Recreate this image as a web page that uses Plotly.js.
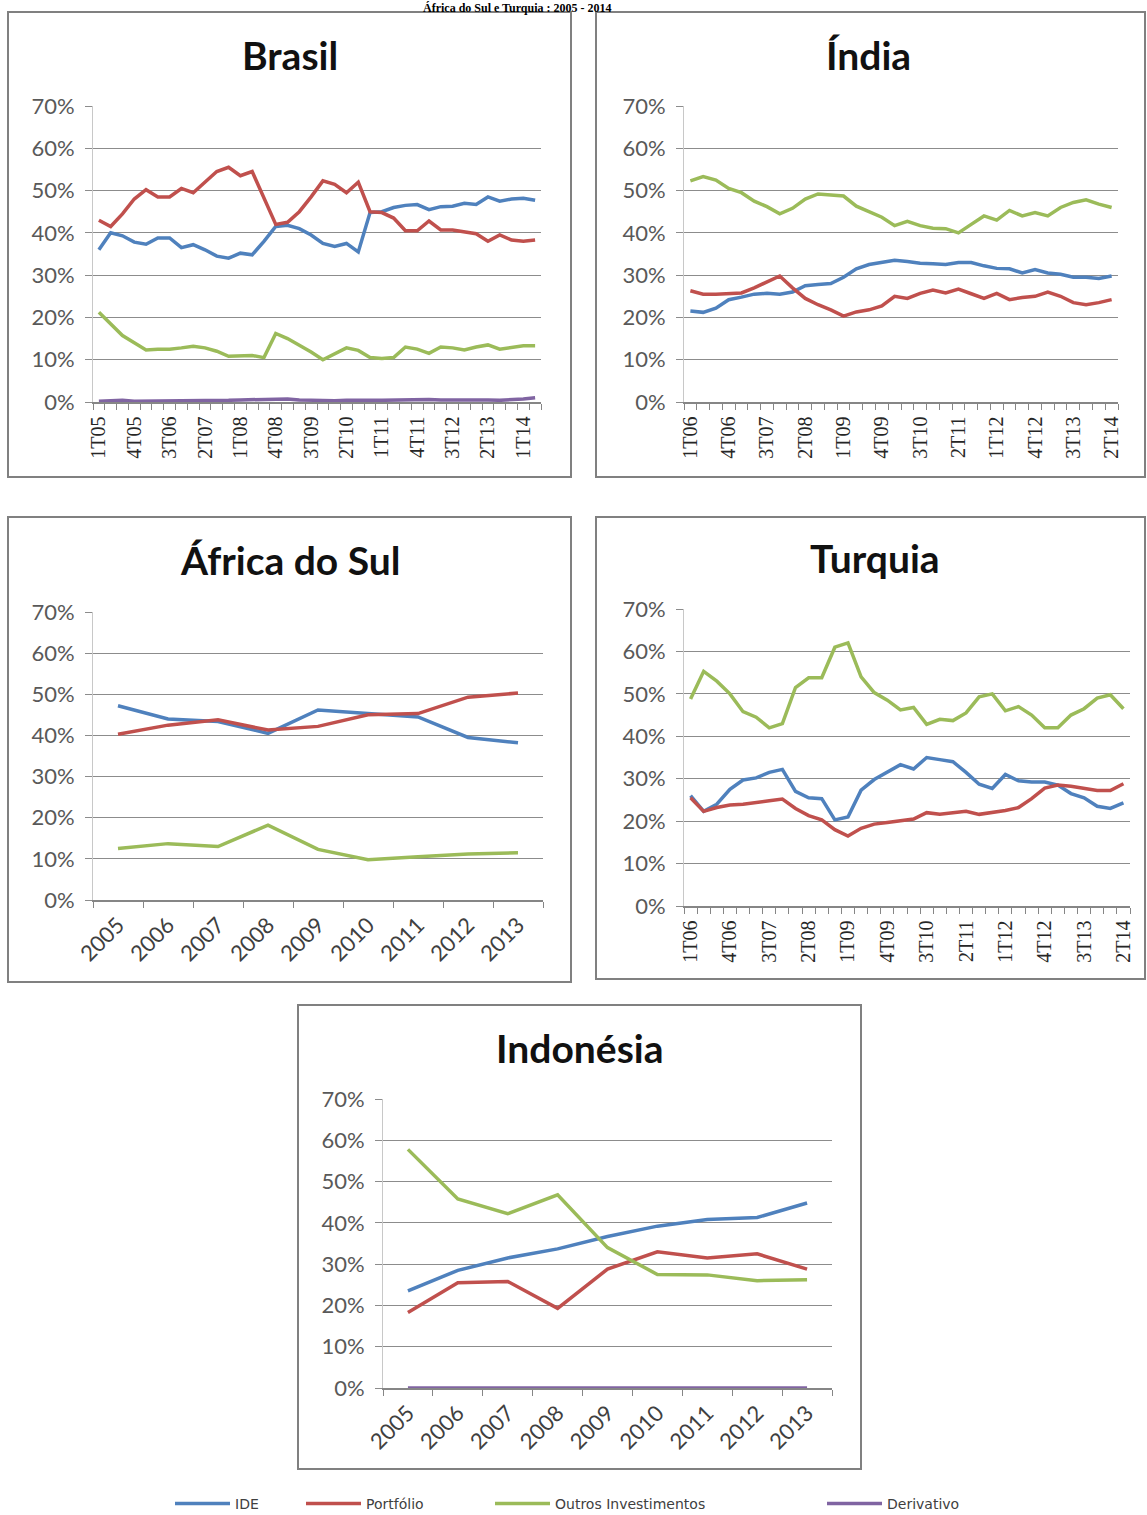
<!DOCTYPE html>
<html><head><meta charset="utf-8">
<script src="https://cdn.plot.ly/plotly-3.0.1.min.js"></script>
<style>
html,body{margin:0;padding:0;background:#fff;}
#chart{width:1147px;height:1515px;}
</style></head>
<body><div id="chart"></div>
<script>
// ---------- categories ----------
const quartersBR = ['1T05','2T05','3T05','4T05','1T06','2T06','3T06','4T06','1T07','2T07','3T07','4T07',
  '1T08','2T08','3T08','4T08','1T09','2T09','3T09','4T09','1T10','2T10','3T10','4T10',
  '1T11','2T11','3T11','4T11','1T12','2T12','3T12','4T12','1T13','2T13','3T13','4T13','1T14','2T14'];
const quartersIN = ['1T06','2T06','3T06','4T06','1T07','2T07','3T07','4T07',
  '1T08','2T08','3T08','4T08','1T09','2T09','3T09','4T09','1T10','2T10','3T10','4T10',
  '1T11','2T11','3T11','4T11','1T12','2T12','3T12','4T12','1T13','2T13','3T13','4T13','1T14','2T14'];
const years = ['2005','2006','2007','2008','2009','2010','2011','2012','2013'];
const seriesNames = ['IDE','Portfólio','Outros Investimentos','Derivativo'];

// ---------- Brasil (%) ----------
const brIDE = [36,40,39.3,37.8,37.3,38.8,38.8,36.5,37.2,36,34.5,34,35.2,34.8,38,41.5,41.8,41,39.5,37.5,36.8,37.5,35.5,44.8,45,46,46.5,46.7,45.5,46.2,46.3,47,46.7,48.5,47.5,48,48.2,47.7];
const brPort = [43,41.5,44.5,48,50.2,48.5,48.5,50.5,49.5,52,54.5,55.5,53.5,54.5,48,42,42.5,45,48.5,52.3,51.5,49.5,52,45,44.8,43.5,40.5,40.5,42.8,40.7,40.7,40.3,39.8,38,39.5,38.3,38,38.3];
const brOutros = [21.2,18.5,15.7,14,12.3,12.5,12.5,12.8,13.2,12.8,12,10.8,10.8,11,10.5,16.2,15,13.5,11.8,10,11.5,12.8,12.2,10.5,10.3,10.5,13,12.5,11.5,13,12.8,12.3,13,13.5,12.5,13,13.3,13.3];
const brDeriv = [0.2,0.3,0.4,0.2,0.2,0.2,0.3,0.2,0.3,0.4,0.3,0.4,0.5,0.6,0.7,0.8,0.7,0.5,0.4,0.3,0.3,0.4,0.3,0.4,0.4,0.5,0.6,0.7,0.6,0.5,0.5,0.6,0.7,0.5,0.4,0.5,0.7,1.0];

// ---------- Índia (%) ----------
const inIDE = [21.5,21.2,22.2,24.2,24.8,25.5,25.7,25.5,26,27.5,27.8,28,29.5,31.5,32.5,33.1,33.5,33.2,32.8,32.7,32.5,33,33,32.2,31.6,31.5,30.5,31.3,30.5,30.2,29.5,29.5,29.2,29.8];
const inPort = [26.3,25.5,25.5,25.6,25.8,27,28.5,29.8,27,24.5,23,21.8,20.3,21.3,21.8,22.7,25,24.5,25.7,26.5,25.8,26.7,25.6,24.5,25.7,24.2,24.7,25,26,25,23.5,23,23.5,24.2];
const inOutros = [52.3,53.3,52.5,50.5,49.5,47.5,46.2,44.5,45.8,48,49.2,49,48.7,46.3,45,43.7,41.7,42.7,41.7,41.1,41,40,42,44,43,45.3,44,44.8,44,46,47.2,47.8,46.8,46];

// ---------- África do Sul (%) ----------
const zaIDE = [47.2,44,43.4,40.5,46.2,45.3,44.5,39.5,38.2];
const zaPort = [40.3,42.5,43.8,41.3,42.2,45,45.3,49.3,50.3];
const zaOutros = [12.5,13.7,13,18.2,12.3,9.8,10.5,11.2,11.5];

// ---------- Turquia (%) ----------
const trIDE = [26,22.3,24,27.5,29.7,30.2,31.5,32.2,27,25.5,25.3,20.3,21,27.3,29.8,31.5,33.3,32.3,35,34.5,34,31.5,28.7,27.7,31,29.5,29.2,29.2,28.5,26.5,25.5,23.5,23,24.3];
const trPort = [25.5,22.3,23.2,23.8,24,24.3,24.8,25.2,23,21.3,20.3,18,16.5,18.3,19.3,19.7,20,20.5,22,21.6,22,22.3,21.6,22,22.5,23.2,25.3,27.8,28.5,28.2,27.6,27.2,27.2,28.8];
const trOutros = [48.8,55.3,53,50,45.8,44.5,42,43,51.5,53.8,53.8,61,62,54,50.3,48.5,46.2,46.8,42.8,44,43.7,45.5,49.3,50,46,47,45,42,42,45,46.5,49,49.8,46.5];

// ---------- Indonésia (%) ----------
const idIDE = [23.5,28.5,31.5,33.7,36.7,39.2,40.8,41.3,44.8];
const idPort = [18.3,25.5,25.8,19.3,28.8,33,31.5,32.5,28.8];
const idOutros = [57.8,45.8,42.2,46.8,34,27.5,27.4,26,26.2];
const idDeriv = [0,0,0,0,0,0,0,0,0];

// ---------- styling / layout ----------
const W = 1147, H = 1515;
const colors = ['#4F81BD','#C0504D','#9BBB59','#8064A2'];
const px = p => p / W;
const py = p => 1 - p / H;

const panels = [
  {title:'Brasil', cats:quartersBR, data:[brIDE,brPort,brOutros,brDeriv], kind:'q',
   plot:[93,541,106,402], box:[8,571,12,477], tpos:[290,55]},
  {title:'Índia', cats:quartersIN, data:[inIDE,inPort,inOutros,null], kind:'q',
   plot:[684,1118,106,402], box:[596,1145,12,477], tpos:[868,55]},
  {title:'África do Sul', cats:years, data:[zaIDE,zaPort,zaOutros,null], kind:'y',
   plot:[93,543,612,900], box:[8,571,517,982], tpos:[290,560]},
  {title:'Turquia', cats:quartersIN, data:[trIDE,trPort,trOutros,null], kind:'q',
   plot:[684,1130,609,906], box:[596,1145,517,979], tpos:[875,558]},
  {title:'Indonésia', cats:years, data:[idIDE,idPort,idOutros,idDeriv], kind:'y',
   plot:[383,832,1099,1388], box:[298,861,1005,1469], tpos:[579,1048]}
];

// legend entry start positions (line start, px)
const legendX = [175, 306, 495, 827];

const traces = [];
const layout = {
  width: W, height: H,
  margin: {l:0, r:0, t:0, b:0, autoexpand: false},
  paper_bgcolor: '#ffffff', plot_bgcolor: '#ffffff',
  showlegend: true,
  shapes: [], annotations: []
};
legendX.forEach((lx, s) => {
  layout[s === 0 ? 'legend' : 'legend' + (s + 1)] = {
    orientation: 'h', x: px(lx - 5), xanchor: 'left', y: py(1504), yanchor: 'middle',
    font: {family: 'DejaVu Sans', size: 14, color: '#404040'},
    itemwidth: 55, bgcolor: 'rgba(0,0,0,0)', borderwidth: 0
  };
});

const shownInLegend = {};
panels.forEach((p, i) => {
  const n = i === 0 ? '' : String(i + 1);
  const xa = 'xaxis' + n, ya = 'yaxis' + n;
  const xs = p.cats.map((c, k) => k);
  const step = p.kind === 'q' ? 3 : 1;
  const tv = xs.filter(k => k % step === 0);
  p.data.forEach((vals, s) => {
    if (!vals) return;
    const show = !shownInLegend[s];
    shownInLegend[s] = true;
    traces.push({
      type: 'scatter', mode: 'lines', x: xs, y: vals,
      xaxis: 'x' + n, yaxis: 'y' + n,
      name: seriesNames[s], showlegend: show,
      legend: s === 0 ? 'legend' : 'legend' + (s + 1),
      line: {color: colors[s], width: 3.5}, hoverinfo: 'skip'
    });
  });
  layout[xa] = {
    domain: [px(p.plot[0]), px(p.plot[1])], anchor: 'y' + n,
    range: [-0.5, p.cats.length - 0.5], fixedrange: true,
    tickmode: 'array', tickvals: tv, ticktext: tv.map(k => p.cats[k]),
    tickangle: p.kind === 'q' ? -90 : -45,
    tickfont: p.kind === 'q'
      ? {family: 'Liberation Serif', size: 20, color: '#262626'}
      : {family: 'Lato', size: 22, color: '#404040'},
    ticks: '', showgrid: false, zeroline: false,
    showline: true, linecolor: '#868686', linewidth: 1.5,
    ticklabelstandoff: p.kind === 'q' ? 5 : 2,
    minor: {ticks: 'outside', ticklen: 6, tickwidth: 1, tickcolor: '#868686',
            tick0: -0.5, dtick: 1, showgrid: false}
  };
  layout[ya] = {
    domain: [py(p.plot[3]), py(p.plot[2])], anchor: 'x' + n,
    range: [0, 70], fixedrange: true, tickmode: 'linear', tick0: 0, dtick: 10,
    ticksuffix: '%',
    tickfont: {family: 'Lato', size: 22, color: '#595959'},
    ticks: 'outside', ticklen: 7, tickcolor: '#8c8c8c', tickwidth: 1,
    showgrid: true, gridcolor: '#8c8c8c', gridwidth: 1, zeroline: false,
    showline: true, linecolor: '#c8c8c8', linewidth: 1,
    ticklabelstandoff: 6
  };
  layout.shapes.push({
    type: 'rect', xref: 'paper', yref: 'paper',
    x0: px(p.box[0]), x1: px(p.box[1]), y0: py(p.box[3]), y1: py(p.box[2]),
    line: {color: '#808080', width: 2}, fillcolor: 'rgba(0,0,0,0)', layer: 'below'
  });
  layout.annotations.push({
    xref: 'paper', yref: 'paper', x: px(p.tpos[0]), y: py(p.tpos[1]),
    xanchor: 'center', yanchor: 'middle', showarrow: false,
    text: '<b>' + p.title + '</b>',
    font: {family: 'Lato', size: 39, color: '#111111'}
  });
});

// caption at the very top (kept small so it stays fully inside the page)
layout.annotations.push({
  xref: 'paper', yref: 'paper', x: px(517), y: 1, xanchor: 'center', yanchor: 'top',
  showarrow: false, borderpad: 0,
  text: '<b>África do Sul e Turquia : 2005 - 2014</b>',
  font: {family: 'Liberation Serif', size: 12, color: '#000000'}
});

Plotly.newPlot('chart', traces, layout, {staticPlot: true, displayModeBar: false});
</script></body></html>
